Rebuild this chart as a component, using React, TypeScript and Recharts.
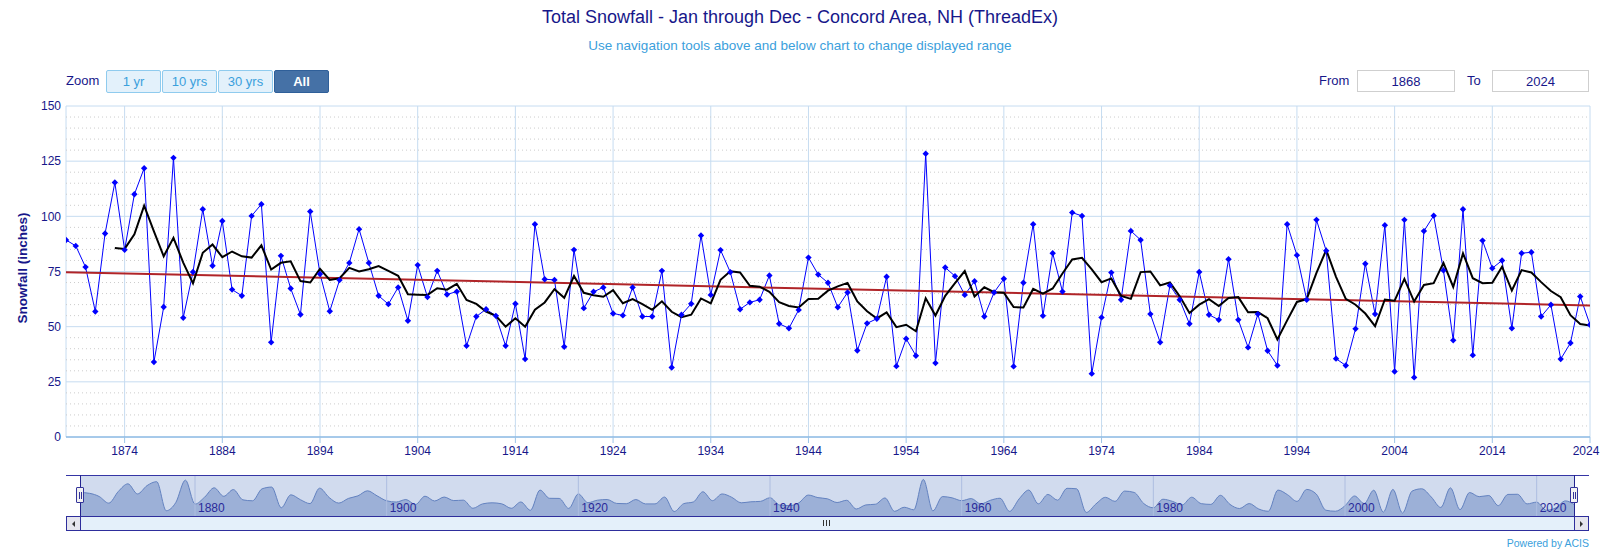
import React from 'react';
import {
  ComposedChart,
  Line,
  XAxis,
  YAxis,
  CartesianGrid,
  ReferenceLine,
  AreaChart,
  Area,
} from 'recharts';

const FIRST_YEAR = 1868;
const LAST_YEAR = 2024;

const snow1868to1899 = [
  89.3, 86.6, 77.0, 56.9, 92.2, 115.3, 84.8, 110.0, 121.8, 34.0,
  58.9, 126.5, 54.0, 74.8, 103.2, 77.6, 97.9, 66.8, 64.0, 100.2,
  105.5, 42.9, 82.1, 67.3, 55.5, 102.2, 73.9, 57.0, 71.1, 78.9,
  94.2, 78.9,
];
const snow1900to1949 = [
  64.0, 60.2, 67.8, 52.7, 77.9, 63.4, 75.3, 64.6, 65.9, 41.3,
  54.6, 57.9, 54.9, 41.3, 60.4, 35.3, 96.4, 71.5, 71.2, 40.9,
  84.8, 58.4, 65.8, 67.8, 56.0, 55.1, 67.8, 54.6, 54.6, 75.3,
  31.5, 55.4, 60.4, 91.3, 64.4, 84.7, 74.7, 57.9, 61.0, 62.2,
  73.2, 51.3, 49.3, 57.6, 81.3, 73.6, 69.9, 58.8, 65.5, 39.2,
];
const snow1950to1999 = [
  51.5, 53.6, 72.6, 32.1, 44.5, 36.8, 128.4, 33.5, 76.8, 72.9,
  64.4, 70.6, 54.6, 65.5, 71.7, 32.0, 69.9, 96.4, 54.9, 83.3,
  65.9, 101.7, 100.2, 28.7, 54.2, 74.5, 62.2, 93.4, 89.3, 55.7,
  42.9, 68.7, 62.2, 51.3, 74.8, 55.4, 53.1, 80.6, 53.1, 40.6,
  55.7, 39.1, 32.4, 96.4, 82.4, 62.2, 98.4, 84.4, 35.5, 32.4,
];
const snow2000to2024 = [
  49.0, 78.5, 55.7, 96.0, 29.7, 98.4, 27.0, 93.3, 100.3, 75.5,
  43.8, 103.2, 37.1, 89.0, 76.5, 80.0, 49.3, 83.3, 83.7, 54.6,
  59.9, 35.3, 42.6, 63.7, 50.9,
];

// Linear trend end values (1868, 2024) as shown on the chart
const trendEnds = [74.7, 59.6];
const MA_WINDOW = 5;
const MA_START = 1873;

const xTicks = [1874, 1884, 1894, 1904, 1914, 1924, 1934, 1944, 1954, 1964, 1974, 1984, 1994, 2004, 2014, 2024];
const yTicks = [0, 25, 50, 75, 100, 125, 150];
const yMinor = [5, 10, 15, 20, 30, 35, 40, 45, 55, 60, 65, 70, 80, 85, 90, 95, 105, 110, 115, 120, 130, 135, 140, 145];
const navTicks = [1880, 1900, 1920, 1940, 1960, 1980, 2000, 2020];
const zoomButtons = ['1 yr', '10 yrs', '30 yrs', 'All'];

const snowfall = [...snow1868to1899, ...snow1900to1949, ...snow1950to1999, ...snow2000to2024];

const rows = snowfall.map((v, i) => {
  const year = FIRST_YEAR + i;
  let ma: number | null = null;
  if (year >= MA_START && i >= MA_WINDOW - 1) {
    let s = 0;
    for (let k = 0; k < MA_WINDOW; k++) s += snowfall[i - k];
    ma = s / MA_WINDOW;
  }
  const trend = i === 0 ? trendEnds[0] : i === snowfall.length - 1 ? trendEnds[1] : null;
  return { year, snow: v, ma, trend };
});

const NAVY = '#17178a';
const LIGHTBLUE = '#3ba0dc';
const FONT = '"Liberation Sans", Arial, sans-serif';

const Diamond = (props: any) => {
  const { cx, cy } = props;
  if (cx == null || cy == null) return null;
  const r = 3.2;
  return (
    <path
      d={`M${cx},${cy - r}L${cx + r},${cy}L${cx},${cy + r}L${cx - r},${cy}Z`}
      fill="#0000ff"
      stroke="none"
    />
  );
};

const XTick = (props: any) => {
  const { x, y, payload } = props;
  const dx = payload.value === LAST_YEAR ? -4 : 0;
  return (
    <text x={x + dx} y={y + 10} textAnchor="middle" fill={NAVY} fontSize={12} fontFamily={FONT}>
      {payload.value}
    </text>
  );
};

const NavLabel = (props: any) => {
  const { viewBox, value } = props;
  if (!viewBox) return null;
  const x = viewBox.x;
  const y = viewBox.y + viewBox.height;
  return (
    <text x={x + 3} y={y - 4} textAnchor="start" fill="#2a2a9a" fontSize={12} fontFamily={FONT}>
      {value}
    </text>
  );
};

const btnBase: React.CSSProperties = {
  position: 'absolute',
  top: 70,
  height: 23,
  boxSizing: 'border-box',
  border: '1px solid #8fcbee',
  borderRadius: 2,
  background: '#e3f1fb',
  color: LIGHTBLUE,
  fontSize: 13,
  fontFamily: FONT,
  display: 'flex',
  alignItems: 'center',
  justifyContent: 'center',
};

export default function App() {
  const btnLefts = [106, 162, 218, 274];
  return (
    <div style={{ position: 'absolute', left: 0, top: 0, width: 1600, height: 552, background: '#fff', fontFamily: FONT, overflow: 'hidden' }}>
      {/* Title */}
      <div style={{ position: 'absolute', top: 7, left: 0, width: 1600, textAlign: 'center', fontSize: 18, lineHeight: '20px', color: NAVY }}>
        Total Snowfall - Jan through Dec - Concord Area, NH (ThreadEx)
      </div>
      <div style={{ position: 'absolute', top: 38, left: 0, width: 1600, textAlign: 'center', fontSize: 13.5, lineHeight: '16px', color: LIGHTBLUE }}>
        Use navigation tools above and below chart to change displayed range
      </div>

      {/* Zoom buttons */}
      <div style={{ position: 'absolute', left: 66, top: 73, fontSize: 13, lineHeight: '16px', color: NAVY }}>Zoom</div>
      {zoomButtons.map((b, i) => {
        const selected = b === 'All';
        return (
          <div
            key={b}
            style={{
              ...btnBase,
              left: btnLefts[i],
              width: 55,
              background: selected ? '#4571a6' : '#e3f1fb',
              color: selected ? '#fff' : LIGHTBLUE,
              fontWeight: selected ? 'bold' : 'normal',
              border: selected ? '1px solid #2f5f99' : '1px solid #8fcbee',
            }}
          >
            {b}
          </div>
        );
      })}

      {/* From / To */}
      <div style={{ position: 'absolute', left: 1319, top: 73, fontSize: 13, lineHeight: '16px', color: NAVY }}>From</div>
      <div style={{ position: 'absolute', left: 1357, top: 70, width: 98, height: 22, boxSizing: 'border-box', border: '1px solid #cfcfcf', display: 'flex', alignItems: 'center', justifyContent: 'center', fontSize: 13, color: NAVY }}>
        {FIRST_YEAR}
      </div>
      <div style={{ position: 'absolute', left: 1467, top: 73, fontSize: 13, lineHeight: '16px', color: NAVY }}>To</div>
      <div style={{ position: 'absolute', left: 1492, top: 70, width: 97, height: 22, boxSizing: 'border-box', border: '1px solid #cfcfcf', display: 'flex', alignItems: 'center', justifyContent: 'center', fontSize: 13, color: NAVY }}>
        {LAST_YEAR}
      </div>

      {/* Y axis title */}
      <div
        style={{
          position: 'absolute',
          left: 22,
          top: 268,
          transform: 'translate(-50%, -50%) rotate(-90deg)',
          whiteSpace: 'nowrap',
          fontSize: 13.5,
          fontWeight: 'bold',
          color: NAVY,
        }}
      >
        Snowfall (inches)
      </div>

      {/* Main chart */}
      <div style={{ position: 'absolute', left: 0, top: 0 }}>
        <ComposedChart width={1600} height={470} data={rows} margin={{ top: 106, right: 10, left: 20, bottom: 3 }}>
          <CartesianGrid stroke="#c6dcf1" strokeWidth={1} />
          {yMinor.map((v) => (
            <ReferenceLine key={`m${v}`} y={v} stroke="#cccccc" strokeDasharray="1 3" />
          ))}
          <XAxis
            dataKey="year"
            type="number"
            domain={[FIRST_YEAR, LAST_YEAR]}
            ticks={xTicks}
            interval={0}
            stroke="#6aa6dc"
            tickLine={{ stroke: '#9cc4e8' }}
            tickSize={6}
            height={30}
            tick={<XTick />}
            allowDataOverflow
          />
          <YAxis
            type="number"
            domain={[0, 150]}
            ticks={yTicks}
            width={46}
            axisLine={false}
            tickLine={false}
            tickSize={0}
            tickMargin={5}
            tick={{ fill: NAVY, fontSize: 12, fontFamily: FONT }}
            interval={0}
          />
          <Line
            dataKey="snow"
            stroke="#0000ff"
            strokeWidth={1}
            isAnimationActive={false}
            dot={(p: any) => <Diamond key={`d${p.index}`} {...p} />}
            activeDot={false}
          />
          <Line
            dataKey="trend"
            stroke="#b02428"
            strokeWidth={2}
            connectNulls
            dot={false}
            activeDot={false}
            isAnimationActive={false}
          />
          <Line
            dataKey="ma"
            stroke="#000000"
            strokeWidth={2}
            dot={false}
            activeDot={false}
            isAnimationActive={false}
          />
        </ComposedChart>
      </div>

      {/* Navigator */}
      <div style={{ position: 'absolute', left: 66, top: 475, width: 1523, height: 41, background: '#ffffff' }} />
      <div style={{ position: 'absolute', left: 80, top: 475, width: 1495, height: 41, background: '#d1dbee' }} />
      <div style={{ position: 'absolute', left: 80, top: 475 }}>
        <AreaChart width={1495} height={41} data={rows} margin={{ top: 0, right: 0, left: 0, bottom: 0 }}>
          <XAxis dataKey="year" type="number" domain={[FIRST_YEAR, LAST_YEAR]} hide />
          <YAxis hide domain={[18, 142]} type="number" />
          {navTicks.map((t) => (
            <ReferenceLine key={`n${t}`} x={t} stroke="#aebde0" strokeWidth={1} />
          ))}
          <Area
            type="monotone"
            dataKey="snow"
            stroke="#6382c0"
            strokeWidth={1}
            fill="#9cb0d7"
            fillOpacity={1}
            isAnimationActive={false}
            dot={false}
            activeDot={false}
          />
          {navTicks.map((t) => (
            <ReferenceLine key={`nl${t}`} x={t} stroke="none" label={<NavLabel value={t} />} />
          ))}
        </AreaChart>
      </div>
      {/* navigator outline */}
      <div style={{ position: 'absolute', left: 66, top: 475, width: 1523, height: 0, borderTop: '1px solid #3535a5' }} />
      <div style={{ position: 'absolute', left: 80, top: 475, width: 0, height: 41, borderLeft: '1px solid #23238f' }} />
      <div style={{ position: 'absolute', left: 1574, top: 475, width: 0, height: 41, borderLeft: '1px solid #23238f' }} />
      {/* handles */}
      {[76, 1570].map((l) => (
        <div key={l} style={{ position: 'absolute', left: l, top: 487, width: 8, height: 16, boxSizing: 'border-box', background: '#f2f2f2', border: '1px solid #33339a', borderRadius: 1 }}>
          <div style={{ position: 'absolute', left: 2, top: 4, width: 0, height: 7, borderLeft: '1px solid #33339a' }} />
          <div style={{ position: 'absolute', left: 4, top: 4, width: 0, height: 7, borderLeft: '1px solid #33339a' }} />
        </div>
      ))}
      {/* scrollbar */}
      <div style={{ position: 'absolute', left: 66, top: 516, width: 1523, height: 15, boxSizing: 'border-box', background: '#e4f0fa', border: '1px solid #2e2e9c' }} />
      <div style={{ position: 'absolute', left: 66, top: 516, width: 15, height: 15, boxSizing: 'border-box', background: '#e6e6ee', border: '1px solid #2e2e9c', display: 'flex', alignItems: 'center', justifyContent: 'center' }}>
        <div style={{ width: 0, height: 0, borderTop: '3px solid transparent', borderBottom: '3px solid transparent', borderRight: '3px solid #333' }} />
      </div>
      <div style={{ position: 'absolute', left: 1574, top: 516, width: 15, height: 15, boxSizing: 'border-box', background: '#e6e6ee', border: '1px solid #2e2e9c', display: 'flex', alignItems: 'center', justifyContent: 'center' }}>
        <div style={{ width: 0, height: 0, borderTop: '3px solid transparent', borderBottom: '3px solid transparent', borderLeft: '3px solid #333' }} />
      </div>
      <div style={{ position: 'absolute', left: 80, top: 516, width: 1494, height: 15, boxSizing: 'border-box', borderTop: '1px solid #2e2e9c', borderBottom: '1px solid #2e2e9c' }} />
      {[823, 826, 829].map((l) => (
        <div key={l} style={{ position: 'absolute', left: l, top: 520, width: 0, height: 6, borderLeft: '1px solid #333' }} />
      ))}

      {/* credits */}
      <div style={{ position: 'absolute', right: 11, top: 537, fontSize: 10.5, lineHeight: '12px', color: LIGHTBLUE }}>
        Powered by ACIS
      </div>
    </div>
  );
}
